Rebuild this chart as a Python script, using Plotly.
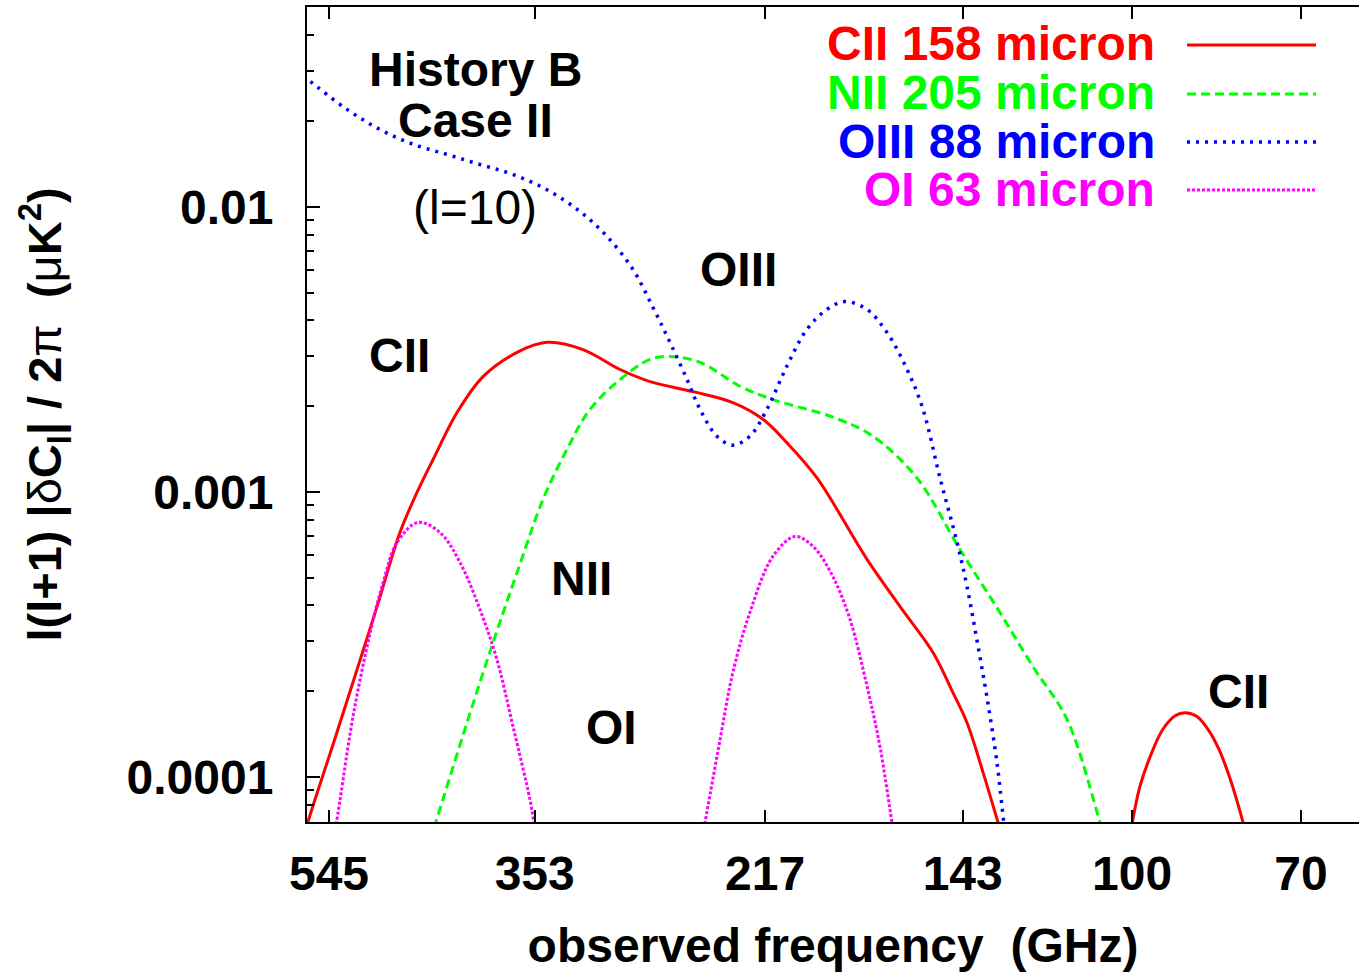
import plotly.graph_objects as go

# ---------------- data ----------------
cii_freq = [575.7, 561.4, 540.4, 518.1, 492.5, 469.2, 452.6, 437.5, 415.9, 393.7, 366.4, 344.0,
            318.8, 294.8, 276.7, 252.7, 232.3, 218.0, 207.3, 194.5, 175.0, 163.2, 152.2,
            146.0, 141.7, 137.0, 132.7, 131.3]
cii_val = [6.13e-5, 8.34e-5, 1.30e-4, 2.15e-4, 3.96e-4, 7.21e-4, 9.96e-4, 1.30e-3, 1.90e-3, 2.54e-3,
           3.09e-3, 3.35e-3, 3.16e-3, 2.69e-3, 2.44e-3, 2.25e-3, 2.06e-3, 1.80e-3, 1.49e-3, 1.12e-3,
           5.80e-4, 3.96e-4, 2.73e-4, 1.98e-4, 1.55e-4, 1.04e-4, 6.92e-5, 6.08e-5]

cii2_freq = [100.4, 98.36, 95.9, 93.7, 91.3, 89.4, 87.2, 85.4, 83.4, 81.4, 79.1, 78.6]
cii2_val = [6.28e-5, 9.26e-5, 1.22e-4, 1.47e-4, 1.64e-4, 1.68e-4, 1.63e-4, 1.49e-4, 1.27e-4,
            1.00e-4, 6.92e-5, 6.28e-5]

nii_freq = [440.4, 428.5, 407.3, 385.5, 366.4, 346.9, 329.8, 314.1, 294.8, 276.7, 265.3, 249.0,
            228.9, 213.5, 188.1, 172.9, 157.5, 143.8, 132.2, 123.3, 114.7, 107.0, 105.9]
nii_val = [5.94e-5, 8.34e-5, 1.55e-4, 2.96e-4, 5.22e-4, 9.41e-4, 1.41e-3, 1.95e-3, 2.48e-3, 2.92e-3,
           2.99e-3, 2.85e-3, 2.35e-3, 2.11e-3, 1.83e-3, 1.57e-3, 1.12e-3, 6.28e-4, 3.78e-4, 2.44e-4,
           1.59e-4, 6.92e-5, 6.08e-5]

oiii_freq = [575.7, 567.4, 524.7, 489.4, 456.4, 424.9, 396.3, 369.5, 344.0, 320.8, 303.0, 286.9,
             275.0, 265.3, 255.9, 249.0, 240.3, 232.3, 224.1, 216.2, 207.3, 198.7, 190.5, 183.4,
             175.0, 167.8, 160.8, 155.5, 150.1, 144.7, 141.7, 138.8, 135.9, 133.0, 131.1, 130.5]
oiii_val = [0.0287, 0.0276, 0.0220, 0.0187, 0.0166, 0.0153, 0.0141, 0.0130, 0.0115, 0.00964,
            0.00788, 0.00604, 0.00444, 0.00335, 0.00248, 0.00195, 0.00157, 0.00146, 0.00157,
            0.00195, 0.00276, 0.00372, 0.00437, 0.00466, 0.00437, 0.00363, 0.00269, 0.00195,
            0.00113, 6.65e-4, 4.66e-4, 3.04e-4, 1.92e-4, 1.12e-4, 6.92e-5, 6.08e-5]

oi1_freq = [540.4, 532.4, 518.1, 499.6, 486.2, 472.1, 451.6, 431.2, 413.3, 396.3, 382.3, 369.5,
            356.6, 353.6, 351.4]
oi1_val = [5.80e-5, 8.34e-5, 1.63e-4, 3.21e-4, 4.81e-4, 6.65e-4, 7.82e-4, 7.21e-4, 5.66e-4,
           3.87e-4, 2.58e-4, 1.50e-4, 8.34e-5, 6.92e-5, 6.08e-5]

oi2_freq = [248.0, 246.4, 238.7, 232.3, 224.1, 213.5, 203.8, 196.1, 188.1, 181.4, 175.0, 170.3,
            166.0, 165.0]
oi2_val = [6.08e-5, 6.92e-5, 1.35e-4, 2.33e-4, 3.78e-4, 5.94e-4, 6.98e-4, 6.44e-4, 5.05e-4,
           3.57e-4, 2.08e-4, 1.28e-4, 6.92e-5, 6.08e-5]

x_tickvals = [545, 353, 217, 143, 100, 70]
x_ticktext = ["545", "353", "217", "143", "100", "70"]
y_tickvals = [1e-4, 1e-3, 1e-2]
y_ticktext = ["0.0001", "0.001", "0.01"]

legend_labels = ["CII 158 micron", "NII 205 micron", "OIII 88 micron", "OI 63 micron"]

# ---------------- styles ----------------
RED, GREEN, BLUE, MAGENTA = "#ff0000", "#00ff00", "#0000ff", "#ff00ff"
FONT = "Liberation Sans, Arial, sans-serif"
FS = 48
styles = {
    "cii": dict(color=RED, width=3, dash="solid"),
    "nii": dict(color=GREEN, width=3, dash="9px,5px"),
    "oiii": dict(color=BLUE, width=3.5, dash="3px,6px"),
    "oi": dict(color=MAGENTA, width=3, dash="3px,2px"),
}

W, H = 1359, 972
L, R, T, B = 307, 0, 7, 150


def px2paper(px, py):
    return (px - L) / (W - L - R), (H - B - py) / (H - B - T)


fig = go.Figure()
series = [
    (cii_freq, cii_val, "cii"), (cii2_freq, cii2_val, "cii"),
    (nii_freq, nii_val, "nii"), (oiii_freq, oiii_val, "oiii"),
    (oi1_freq, oi1_val, "oi"), (oi2_freq, oi2_val, "oi"),
]
for fx, fy, key in series:
    fig.add_trace(go.Scatter(x=fx, y=fy, mode="lines",
                             line=dict(**styles[key], shape="spline", smoothing=1.0),
                             showlegend=False, hoverinfo="skip"))

# ---------------- annotations ----------------
def add_text(text, px, py, size=FS, bold=True, color="black", xanchor="center"):
    xp, yp = px2paper(px, py)
    fig.add_annotation(x=xp, y=yp, xref="paper", yref="paper", text=text, showarrow=False,
                       xanchor=xanchor, yanchor="middle",
                       font=dict(family=FONT, size=size, color=color,
                                 weight="bold" if bold else "normal"))

add_text("History B", 475, 69)
add_text("Case II", 475, 121)
add_text("(l=10)", 475, 207, bold=False)
add_text("CII", 399, 355)
add_text("OIII", 738, 269)
add_text("NII", 581, 578)
add_text("OI", 611, 727)
add_text("CII", 1238, 691)

leg_y = [45, 94, 142, 190]
leg_colors = [RED, GREEN, BLUE, MAGENTA]
leg_keys = ["cii", "nii", "oiii", "oi"]
for lab, ly, col, key in zip(legend_labels, leg_y, leg_colors, leg_keys):
    add_text(lab, 1157, ly - 1, color=col, xanchor="right")
    x0, y0 = px2paper(1187, ly)
    x1, _ = px2paper(1316, ly)
    st = styles[key]
    fig.add_shape(type="line", xref="paper", yref="paper", x0=x0, x1=x1, y0=y0, y1=y0,
                  line=dict(color=st["color"], width=st["width"], dash=st["dash"]))

ytitle = ("<b>l(l+1) |</b>δ<b>C<sub>l</sub>| / 2</b>π<b>  (</b>μ<b>K<sup>2</sup>)</b>")

fig.update_layout(
    width=W, height=H,
    margin=dict(l=L, r=R, t=T, b=B, pad=0),
    paper_bgcolor="white", plot_bgcolor="white",
    showlegend=False,
    font=dict(family=FONT, size=FS, color="black"),
    xaxis=dict(
        type="log", range=[2.7566, 1.7919],
        tickvals=x_tickvals, ticktext=x_ticktext,
        ticks="inside", ticklen=12, tickwidth=2, tickcolor="black",
        showline=True, linecolor="black", linewidth=2, mirror="ticks",
        showgrid=False, zeroline=False,
        tickfont=dict(family=FONT, size=FS, weight="bold"),
        ticklabelstandoff=8,
        title=dict(text="<b>observed frequency  (GHz)</b>", standoff=30,
                   font=dict(family=FONT, size=FS)),
    ),
    yaxis=dict(
        type="log", range=[-4.158, -1.2982],
        tickvals=y_tickvals, ticktext=y_ticktext,
        ticks="inside", ticklen=13, tickwidth=2, tickcolor="black",
        minor=dict(ticks="inside", ticklen=7, tickwidth=1.5, tickcolor="black",
                   tickvals=[m * 10.0 ** e for e in (-5, -4, -3, -2) for m in range(2, 10)],
                   showgrid=False),
        showline=True, linecolor="black", linewidth=2, mirror=False,
        showgrid=False, zeroline=False,
        tickfont=dict(family=FONT, size=FS, weight="bold"),
        ticklabelstandoff=22,
        title=dict(text=ytitle, standoff=50, font=dict(family=FONT, size=47)),
    ),
)

fig.write_html("out.html")
